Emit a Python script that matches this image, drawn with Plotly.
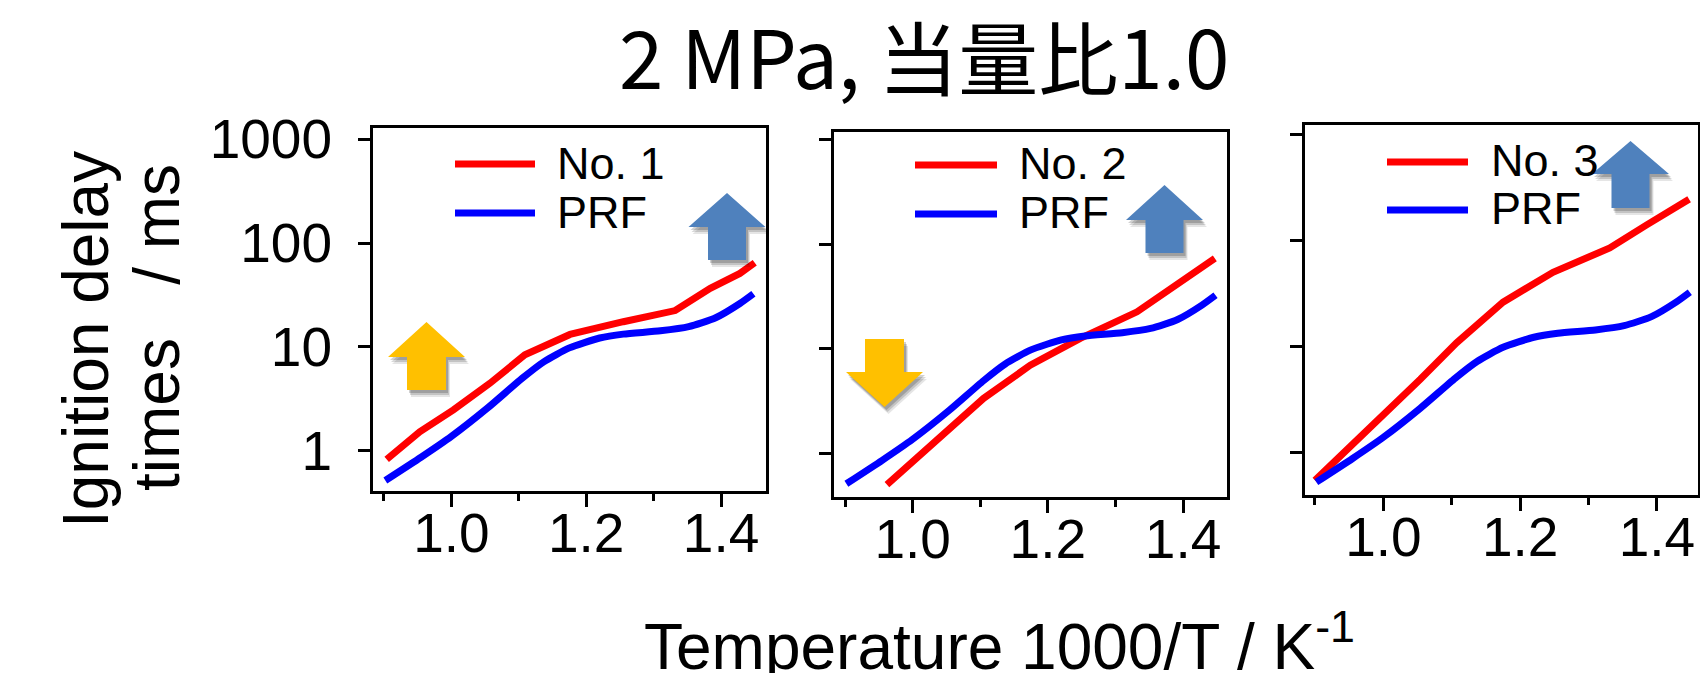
import plotly.graph_objects as go

W, H = 1700, 673

# ---------------- data ----------------
prf_x = [0.902, 0.955, 1.000, 1.054, 1.105, 1.137, 1.175, 1.220, 1.255, 1.310, 1.352, 1.392, 1.428, 1.448]
prf_y = [0.52, 0.87, 1.38, 2.60, 5.00, 7.20, 9.80, 12.2, 13.3, 14.3, 15.7, 19.1, 26.2, 32.5]

no1_x = [0.904, 0.953, 1.003, 1.057, 1.109, 1.176, 1.255, 1.332, 1.384, 1.428, 1.450]
no1_y = [0.83, 1.53, 2.48, 4.47, 8.4, 13.2, 17.5, 22.4, 36.7, 51.0, 64.6]

no2_x = [0.962, 1.026, 1.105, 1.174, 1.248, 1.332, 1.386, 1.428, 1.447]
no2_y = [0.51, 1.17, 3.39, 7.0, 12.6, 22.6, 39.2, 58.7, 73.0]

no3_x = [0.900, 0.951, 1.000, 1.054, 1.107, 1.175, 1.248, 1.331, 1.385, 1.426, 1.447]
no3_y = [0.54, 1.11, 2.2, 4.88, 10.8, 26.2, 50.2, 85.3, 141.0, 203.0, 247.0]

fuel_names = ["No. 1", "No. 2", "No. 3"]
ref_name = "PRF"
x_tickvals = [1.0, 1.2, 1.4]
x_ticktext = ["1.0", "1.2", "1.4"]
x_minor_vals = [0.9, 1.1, 1.3]
y_tickvals = [1, 10, 100, 1000]
y_ticktext = ["1", "10", "100", "1000"]
title_text = "2 MPa, 当量比1.0"
x_title = "Temperature 1000/T / K<sup>-1</sup>"
y_title_lines = ["Ignition delay", "times\u00a0\u00a0\u00a0/ ms"]

RED = "#FF0000"
BLUE = "#0000FF"
YELLOW = "#FFC000"
ARROWBLUE = "#4F81BD"
FONT = "Liberation Sans, Arial, sans-serif"

# ---------------- layout geometry (pixels) ----------------
panels = [
    dict(xd=(373, 766), yd=(128, 491), xr=(0.8837, 1.4667), yr=(-0.385, 3.106),
         leg=dict(x0=455, x1=535, yr=164, yb=213, tx=555, tyr=163, tyb=212)),
    dict(xd=(834, 1227), yd=(132, 497), xr=(0.8837, 1.465), yr=(-0.41, 3.067),
         leg=dict(x0=915, x1=997, yr=165, yb=214, tx=1017, tyr=163, tyb=212)),
    dict(xd=(1305, 1698), yd=(125, 495), xr=(0.8854, 1.460), yr=(-0.406, 3.094),
         leg=dict(x0=1387, x1=1468, yr=162, yb=210, tx=1489, tyr=160, tyb=208)),
]
fuel_data = [(no1_x, no1_y), (no2_x, no2_y), (no3_x, no3_y)]

def px(x):
    return x / W

def py(y):
    return 1 - y / H

fig = go.Figure()
layout = dict(
    width=W, height=H, margin=dict(l=0, r=0, t=0, b=0, autoexpand=False),
    paper_bgcolor="white", plot_bgcolor="white", showlegend=False,
    font=dict(family=FONT, color="black"),
)

shapes = []
annotations = []

for i, p in enumerate(panels):
    sfx = "" if i == 0 else str(i + 1)
    xa, ya = "x" + sfx, "y" + sfx
    fx, fy = fuel_data[i]
    fig.add_trace(go.Scatter(x=fx, y=fy, mode="lines", name=fuel_names[i],
                             line=dict(color=RED, width=7), xaxis=xa, yaxis=ya))
    fig.add_trace(go.Scatter(x=prf_x, y=prf_y, mode="lines", name=ref_name,
                             line=dict(color=BLUE, width=7, shape="spline", smoothing=0.6),
                             xaxis=xa, yaxis=ya))
    layout["xaxis" + sfx] = dict(
        domain=[px(p["xd"][0]), px(p["xd"][1])], range=list(p["xr"]), anchor=ya,
        automargin=False,
        showline=True, linecolor="black", linewidth=3, mirror=True,
        ticks="outside", ticklen=13, tickwidth=3, tickcolor="black",
        tickvals=x_tickvals, ticktext=x_ticktext, tickfont=dict(size=55, family=FONT),
        ticklabelstandoff=-21,
        showgrid=False, zeroline=False,
        minor=dict(tickvals=x_minor_vals, ticks="outside", ticklen=7, tickwidth=3,
                   tickcolor="black", showgrid=False),
    )
    layout["yaxis" + sfx] = dict(
        domain=[py(p["yd"][1]), py(p["yd"][0])], type="log", range=list(p["yr"]), anchor=xa,
        automargin=False,
        showline=True, linecolor="black", linewidth=3, mirror=True,
        ticks="outside", ticklen=12, tickwidth=3, tickcolor="black",
        tickvals=y_tickvals, ticktext=y_ticktext, showticklabels=(i == 0),
        tickfont=dict(size=55, family=FONT), ticklabelstandoff=15,
        showgrid=False, zeroline=False,
    )
    lg = p["leg"]
    shapes.append(dict(type="line", xref="paper", yref="paper",
                       x0=px(lg["x0"]), x1=px(lg["x1"]), y0=py(lg["yr"]), y1=py(lg["yr"]),
                       line=dict(color=RED, width=7)))
    shapes.append(dict(type="line", xref="paper", yref="paper",
                       x0=px(lg["x0"]), x1=px(lg["x1"]), y0=py(lg["yb"]), y1=py(lg["yb"]),
                       line=dict(color=BLUE, width=7)))
    annotations.append(dict(text=fuel_names[i], xref="paper", yref="paper",
                            x=px(lg["tx"]), y=py(lg["tyr"]), xanchor="left", yanchor="middle",
                            showarrow=False, font=dict(size=45, family=FONT)))
    annotations.append(dict(text=ref_name, xref="paper", yref="paper",
                            x=px(lg["tx"]), y=py(lg["tyb"]), xanchor="left", yanchor="middle",
                            showarrow=False, font=dict(size=45, family=FONT)))

# ---------------- decorative arrows ----------------
def arrow_path(cx, tip, neck, tail, hw, sw):
    pts = [(cx, tip), (cx + hw / 2, neck), (cx + sw / 2, neck), (cx + sw / 2, tail),
           (cx - sw / 2, tail), (cx - sw / 2, neck), (cx - hw / 2, neck)]
    return "M " + " L ".join(f"{px(a):.5f},{py(b):.5f}" for a, b in pts) + " Z"

arrows = [
    (426.5, 322, 357, 390, 77, 39, YELLOW),
    (727.0, 193, 227, 260, 77, 38, ARROWBLUE),
    (884.5, 407, 372, 339, 77, 39, YELLOW),
    (1164.5, 185, 220, 253, 77, 38, ARROWBLUE),
    (1630.5, 141, 174, 208, 77, 38, ARROWBLUE),
]
for cx, tip, neck, tail, hw, sw, col in arrows:
    for dx, dy, op in [(4, 7, 0.10), (3, 5, 0.15), (2, 3, 0.18)]:
        shapes.append(dict(type="path", xref="paper", yref="paper",
                           path=arrow_path(cx + dx, tip + dy, neck + dy, tail + dy, hw, sw),
                           fillcolor="#000000", opacity=op, line=dict(width=0), layer="above"))
    shapes.append(dict(type="path", xref="paper", yref="paper",
                       path=arrow_path(cx, tip, neck, tail, hw, sw),
                       fillcolor=col, line=dict(width=0), layer="above"))

# ---------------- titles ----------------
annotations.append(dict(text=title_text, xref="paper", yref="paper", x=px(924), y=py(54),
                        xanchor="center", yanchor="middle", showarrow=False,
                        font=dict(size=80, family="Noto Sans CJK JP", color="black")))
annotations.append(dict(text=x_title, xref="paper", yref="paper", x=px(999), y=py(642),
                        xanchor="center", yanchor="middle", showarrow=False,
                        font=dict(size=64, family=FONT)))
annotations.append(dict(text=y_title_lines[0], xref="paper", yref="paper", x=px(86), y=py(340),
                        xanchor="center", yanchor="middle", showarrow=False, textangle=-90,
                        font=dict(size=64, family=FONT)))
annotations.append(dict(text=y_title_lines[1], xref="paper", yref="paper", x=px(157), y=py(328),
                        xanchor="center", yanchor="middle", showarrow=False, textangle=-90,
                        font=dict(size=64, family=FONT)))

layout["shapes"] = shapes
layout["annotations"] = annotations
fig.update_layout(**layout)

fig.write_html("out.html", config={"displayModeBar": False},
               post_script="document.body.style.margin='0';document.body.style.overflow='hidden';")
